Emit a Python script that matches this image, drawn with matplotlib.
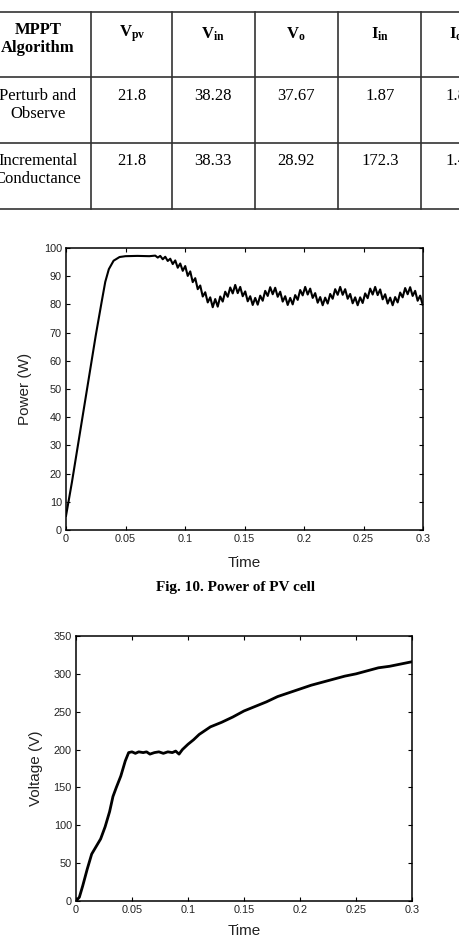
import matplotlib.pyplot as plt
from matplotlib.lines import Line2D
import numpy as np

plt.rcParams['mathtext.fontset'] = 'custom'
plt.rcParams['mathtext.rm'] = 'Liberation Serif'
plt.rcParams['mathtext.bf'] = 'Liberation Serif:bold'
plt.rcParams['mathtext.it'] = 'Liberation Serif:italic'

# table data
table_header = ['MPPT\nAlgorithm', r'$\mathbf{V_{pv}}$', r'$\mathbf{V_{in}}$',
                r'$\mathbf{V_{o}}$', r'$\mathbf{I_{in}}$', r'$\mathbf{I_{o}}$']
table_rows = [
    ['Perturb and\nObserve', '21.8', '38.28', '37.67', '1.87', '1.8'],
    ['Incremental\nConductance', '21.8', '38.33', '28.92', '172.3', '1.4'],
]

# power of PV cell (start-up part)
t_power_start = [0, 0.005, 0.01, 0.015, 0.02, 0.025, 0.03, 0.033, 0.036,
                 0.04, 0.045, 0.05, 0.06, 0.07]
p_power_start = [5, 17, 30, 43, 56, 69, 81, 88, 92.5, 95.5, 96.8, 97.1, 97.2, 97.1]
# ripple part sampled every 2.1 ms from 0.075 s
ripple_t0, ripple_dt = 0.075, 0.0021
p_power_ripple = [
    97.3, 96.6, 97.2, 96.0, 96.9, 95.4, 96.2, 94.3, 95.6, 93.0,
    94.5, 91.9, 93.6, 90.1, 91.7, 87.9, 89.3, 85.4, 86.7, 82.8,
    84.3, 80.7, 82.5, 79.0, 81.9, 79.2, 82.8, 81.0, 84.5, 82.7,
    86.0, 83.9, 86.9, 84.0, 86.2, 82.9, 84.6, 81.1, 82.9, 79.8,
    82.3, 79.9, 83.1, 81.3, 84.8, 83.0, 86.1, 83.6, 85.9, 82.7,
    84.5, 81.0, 82.9, 79.8, 82.3, 80.0, 83.3, 81.6, 85.1, 83.2,
    86.2, 83.5, 85.6, 82.3, 84.0, 80.6, 82.6, 79.7, 82.4, 80.3,
    83.7, 82.0, 85.4, 83.4, 86.2, 83.4, 85.4, 82.0, 83.7, 80.4,
    82.5, 79.7, 82.5, 80.5, 83.9, 82.2, 85.6, 83.5, 86.2, 83.3,
    85.3, 81.8, 83.6, 80.3, 82.4, 79.7, 82.6, 80.7, 84.2, 82.5,
    85.8, 83.6, 86.1, 83.0, 84.8, 81.3, 83.1, 79.9,
]

# voltage
t_volt = [0, 0.003, 0.006, 0.01, 0.014, 0.018, 0.022, 0.026, 0.03, 0.033,
          0.036, 0.04, 0.044, 0.047, 0.05, 0.053, 0.056, 0.06, 0.063, 0.066,
          0.07, 0.074, 0.078, 0.082, 0.086, 0.089, 0.092, 0.095, 0.1, 0.105,
          0.11, 0.115, 0.12, 0.13, 0.14, 0.15, 0.16, 0.17, 0.18, 0.19, 0.2,
          0.21, 0.22, 0.23, 0.24, 0.25, 0.26, 0.27, 0.28, 0.29, 0.3]
v_volt = [0, 5, 20, 42, 62, 72, 82, 98, 118, 138,
          150, 165, 185, 196, 197, 195, 197, 196, 197, 194,
          196, 197, 195, 197, 196, 198, 194, 200, 207, 213,
          220, 225, 230, 236, 243, 251, 257, 263, 270, 275, 280,
          285, 289, 293, 297, 300, 304, 308, 310, 313, 316]

fig = plt.figure(figsize=(4.6, 9.38), dpi=100)
W, H = 460.0, 938.0

def fx(px):
    return px / W

def fy(py):
    return 1 - py / H

# table grid
h_lines = [12, 77, 143, 209]
v_lines = [91, 172, 255, 338, 421]
for y in h_lines:
    fig.add_artist(Line2D([0, 1], [fy(y), fy(y)], color='#333333', lw=1.2))
for x in v_lines:
    fig.add_artist(Line2D([fx(x), fx(x)], [fy(12), fy(209)], color='#333333', lw=1.2))

col_x = [38, 132, 213, 296, 380, 456]
serif = 'Liberation Serif'
for i, txt in enumerate(table_header):
    if i == 0:
        fig.text(fx(col_x[i]), fy(39), txt, ha='center', va='center', family=serif,
                 fontweight='bold', fontsize=12, linespacing=1.1)
    else:
        fig.text(fx(col_x[i]), fy(34), txt, ha='center', va='center', fontsize=12)
row_y = [96, 161]
for r, row in enumerate(table_rows):
    for i, txt in enumerate(row):
        if i == 0:
            fig.text(fx(col_x[i]), fy(row_y[r] + 9), txt, ha='center', va='center',
                     family=serif, fontsize=12, linespacing=1.1)
        else:
            fig.text(fx(col_x[i]), fy(row_y[r]), txt, ha='center', va='center',
                     family=serif, fontsize=12)

def style_axes(ax):
    ax.tick_params(direction='in', top=True, right=True, length=3, width=0.8,
                   labelsize=7.8, labelcolor='#222222', pad=3)
    for s in ax.spines.values():
        s.set_linewidth(1.1)
    for lab in ax.get_xticklabels() + ax.get_yticklabels():
        lab.set_family('Liberation Sans')

# power plot
ax1 = fig.add_axes([fx(66), fy(530), fx(423) - fx(66), fy(248) - fy(530)])
t_power_ripple = ripple_t0 + ripple_dt * np.arange(len(p_power_ripple))
t_power = np.concatenate([t_power_start, t_power_ripple])
p_power = np.concatenate([p_power_start, p_power_ripple])
ax1.plot(t_power, p_power, color='black', lw=1.5)
ax1.set_xlim(0, 0.3)
ax1.set_ylim(0, 100)
ax1.set_xticks([0, 0.05, 0.1, 0.15, 0.2, 0.25, 0.3])
ax1.set_xticklabels(['0', '0.05', '0.1', '0.15', '0.2', '0.25', '0.3'])
ax1.set_yticks(range(0, 101, 10))
style_axes(ax1)
ax1.set_xlabel('Time', fontsize=11, family='Liberation Sans', color='#222222')
ax1.set_ylabel('Power (W)', fontsize=11, family='Liberation Sans', color='#222222')
ax1.xaxis.set_label_coords(0.5, -0.092)
ax1.yaxis.set_label_coords(-0.095, 0.5)

fig.text(fx(236), fy(587), 'Fig. 10. Power of PV cell', ha='center', va='center',
         family=serif, fontweight='bold', fontsize=11)

# voltage plot
ax2 = fig.add_axes([fx(76), fy(901), fx(412) - fx(76), fy(636) - fy(901)])
ax2.plot(t_volt, v_volt, color='black', lw=2.0)
ax2.set_xlim(0, 0.3)
ax2.set_ylim(0, 350)
ax2.set_xticks([0, 0.05, 0.1, 0.15, 0.2, 0.25, 0.3])
ax2.set_xticklabels(['0', '0.05', '0.1', '0.15', '0.2', '0.25', '0.3'])
ax2.set_yticks(range(0, 351, 50))
style_axes(ax2)
ax2.set_xlabel('Time', fontsize=11, family='Liberation Sans', color='#222222')
ax2.set_ylabel('Voltage (V)', fontsize=11, family='Liberation Sans', color='#222222')
ax2.xaxis.set_label_coords(0.5, -0.087)
ax2.yaxis.set_label_coords(-0.098, 0.5)

fig.savefig('out.png', dpi=100, facecolor='white')
